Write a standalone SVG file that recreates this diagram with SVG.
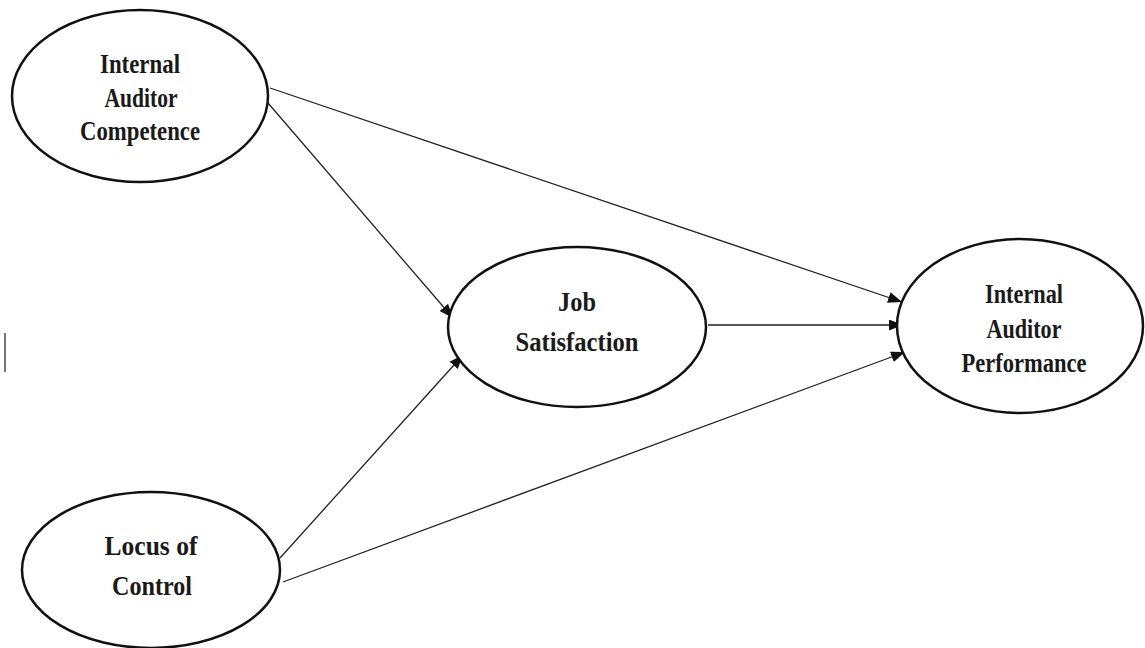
<svg xmlns="http://www.w3.org/2000/svg" width="1145" height="648" viewBox="0 0 1145 648">
  <style>
    .node ellipse { fill: #ffffff; stroke: #111111; stroke-width: 2.5; }
    .node text { font-family: "Liberation Serif", "Times New Roman", serif; font-weight: bold; font-size: 27px; fill: #1a1a1a; text-anchor: middle; }
    .edge { stroke: #222222; stroke-width: 1.3; fill: none; marker-end: url(#arrow); }
  </style>
  <defs>
    <marker id="arrow" markerUnits="userSpaceOnUse" markerWidth="15" markerHeight="11" refX="14" refY="5.5" orient="auto">
      <path d="M0,0 L14,5.5 L0,11 z" fill="#111111"/>
    </marker>
  </defs>
  <rect width="1145" height="648" fill="#ffffff"/>
  <line x1="5" y1="333" x2="5" y2="372" stroke="#777777" stroke-width="2"/>
  <g id="connectors">
    <line class="edge" x1="270" y1="88" x2="902" y2="302"/>
    <line class="edge" x1="268" y1="103" x2="453" y2="318"/>
    <line class="edge" x1="708" y1="325" x2="903" y2="325"/>
    <line class="edge" x1="280" y1="558" x2="463" y2="355"/>
    <line class="edge" x1="283" y1="582" x2="905" y2="352"/>
  </g>
  <g id="competence" class="node">
    <ellipse cx="140" cy="96" rx="128" ry="86"/>
    <text x="140" y="73" textLength="80" lengthAdjust="spacingAndGlyphs">Internal</text>
    <text x="141" y="107" textLength="73" lengthAdjust="spacingAndGlyphs">Auditor</text>
    <text x="140" y="140" textLength="120" lengthAdjust="spacingAndGlyphs">Competence</text>
  </g>
  <g id="job-satisfaction" class="node">
    <ellipse cx="577" cy="327" rx="129" ry="80"/>
    <text x="577" y="311" textLength="38" lengthAdjust="spacingAndGlyphs">Job</text>
    <text x="577" y="351" textLength="123" lengthAdjust="spacingAndGlyphs">Satisfaction</text>
  </g>
  <g id="performance" class="node">
    <ellipse cx="1020" cy="326" rx="123" ry="87"/>
    <text x="1024" y="303" textLength="78" lengthAdjust="spacingAndGlyphs">Internal</text>
    <text x="1024" y="338" textLength="75" lengthAdjust="spacingAndGlyphs">Auditor</text>
    <text x="1024" y="372" textLength="125" lengthAdjust="spacingAndGlyphs">Performance</text>
  </g>
  <g id="locus" class="node">
    <ellipse cx="151" cy="570" rx="129" ry="78"/>
    <text x="151" y="555" textLength="93" lengthAdjust="spacingAndGlyphs">Locus of</text>
    <text x="152" y="595" textLength="80" lengthAdjust="spacingAndGlyphs">Control</text>
  </g>
</svg>
